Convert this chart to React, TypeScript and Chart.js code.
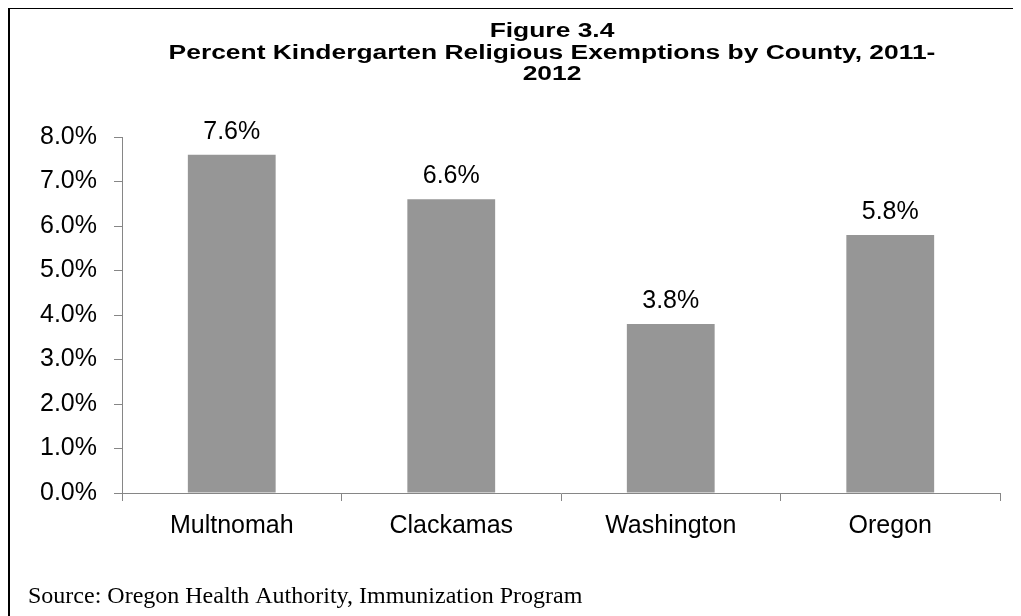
import React, { useEffect, useRef } from "react";
import { Chart, registerables } from "chart.js";

Chart.register(...registerables);

const categories = ["Multnomah", "Clackamas", "Washington", "Oregon"];
const exemptionPct = [7.6, 6.6, 3.8, 5.8];
const titleLines = [
  "Figure 3.4",
  "Percent Kindergarten Religious Exemptions by County, 2011-",
  "2012",
];
const sourceNote = "Source: Oregon Health Authority, Immunization Program";

const CANVAS_W = 1005;
const CANVAS_H = 612;
const AXIS_GRAY = "#868686";
const BAR_GRAY = "#969696";
const SANS = "'Liberation Sans', Arial, sans-serif";

export default function App() {
  const ref = useRef<HTMLCanvasElement | null>(null);

  useEffect(() => {
    if (!ref.current) return;

    const labelsPlugin = {
      id: "barValueLabels",
      afterDatasetsDraw(chart: any) {
        const ctx = chart.ctx;
        const meta = chart.getDatasetMeta(0);
        ctx.save();
        ctx.font = `25px ${SANS}`;
        ctx.fillStyle = "#000";
        ctx.textAlign = "center";
        ctx.textBaseline = "alphabetic";
        meta.data.forEach((bar: any, i: number) => {
          const v = chart.data.datasets[0].data[i] as number;
          ctx.fillText(v.toFixed(1) + "%", bar.x, bar.y - 16);
        });
        ctx.restore();
      },
    };

    const textPlugin = {
      id: "titleAndSource",
      afterDraw(chart: any) {
        const ctx = chart.ctx;
        ctx.save();
        ctx.fillStyle = "#000";
        ctx.font = `bold 20px ${SANS}`;
        ctx.textAlign = "center";
        ctx.textBaseline = "alphabetic";
        const baselines = [28, 49.5, 71];
        titleLines.forEach((line, i) => {
          ctx.save();
          ctx.translate(542, baselines[i]);
          ctx.scale(1.32, 1);
          ctx.fillText(line, 0, 0);
          ctx.restore();
        });
        ctx.font = `24px 'Liberation Serif', 'Times New Roman', serif`;
        ctx.textAlign = "left";
        ctx.fillText(sourceNote, 18, 594);
        ctx.restore();
      },
    };

    const chart = new Chart(ref.current, {
      type: "bar",
      data: {
        labels: categories,
        datasets: [
          {
            data: exemptionPct,
            backgroundColor: BAR_GRAY,
            borderWidth: 0,
            categoryPercentage: 1,
            barPercentage: 0.4,
          },
        ],
      },
      options: {
        animation: false,
        responsive: false,
        devicePixelRatio: 1,
        layout: { padding: { left: 0, right: 15, top: 128, bottom: 0 } },
        plugins: {
          legend: { display: false },
          title: { display: false },
          tooltip: { enabled: false },
        },
        scales: {
          x: {
            afterFit: (scale: any) => {
              scale.height = CANVAS_H - 484;
            },
            grid: {
              offset: true,
              drawOnChartArea: false,
              drawTicks: true,
              tickLength: 8,
              color: AXIS_GRAY,
            },
            border: { color: AXIS_GRAY, width: 1 },
            ticks: {
              color: "#000",
              font: { family: SANS, size: 25 },
              padding: 10,
              maxRotation: 0,
            },
          },
          y: {
            min: 0,
            max: 8,
            afterFit: (scale: any) => {
              scale.width = 112;
            },
            grid: {
              drawOnChartArea: false,
              drawTicks: true,
              tickLength: 8,
              color: AXIS_GRAY,
            },
            border: { color: AXIS_GRAY, width: 1 },
            ticks: {
              stepSize: 1,
              color: "#000",
              font: { family: SANS, size: 25 },
              padding: 17,
              callback: (v: any) => Number(v).toFixed(1) + "%",
            },
          },
        },
      },
      plugins: [labelsPlugin, textPlugin],
    });

    return () => chart.destroy();
  }, []);

  return (
    <div
      style={{
        border: "2px solid #000",
        width: CANVAS_W,
        height: CANVAS_H,
        marginTop: -1,
        background: "#fff",
      }}
    >
      <canvas
        ref={ref}
        width={CANVAS_W}
        height={CANVAS_H}
        style={{ display: "block", width: CANVAS_W, height: CANVAS_H }}
      />
    </div>
  );
}
